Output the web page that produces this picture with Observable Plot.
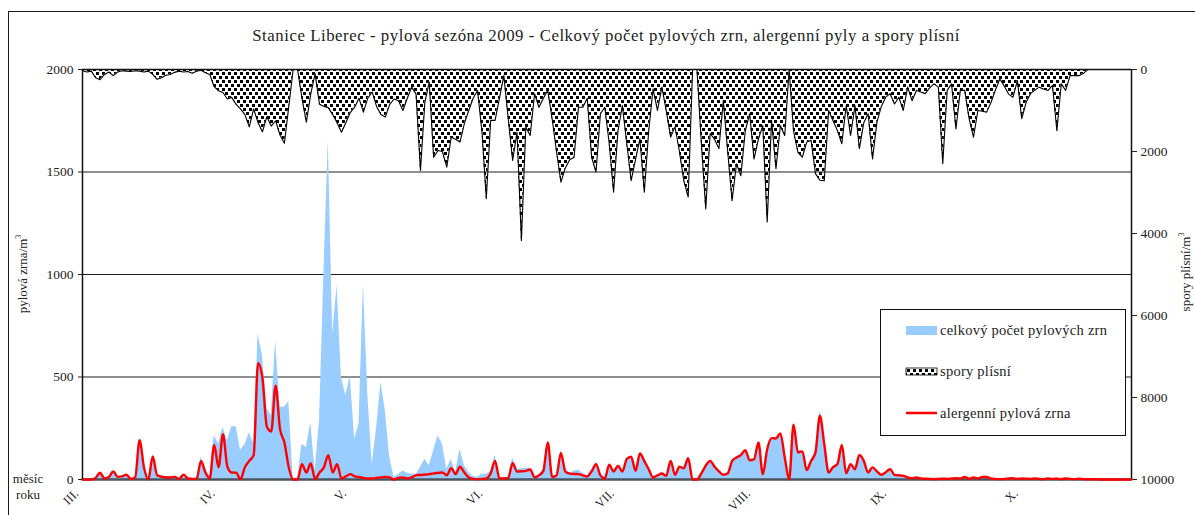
<!DOCTYPE html>
<html>
<head>
<meta charset="utf-8">
<script src="https://cdn.jsdelivr.net/npm/d3@7"></script>
<script src="https://cdn.jsdelivr.net/npm/@observablehq/plot@0.6"></script>
<style>
  body { margin: 0; background: #fff; font-family: "Liberation Serif", serif; color: #222; }
  #wrap { position: relative; width: 1195px; height: 515px; overflow: hidden; }
  #frame { position: absolute; left: 8px; top: 11px; width: 1300px; height: 700px; border: 1px solid #1a1a1a; box-sizing: border-box; }
  .layer { position: absolute; left: 0; top: 0; }
  #title { position: absolute; top: 28px; left: 606px; transform: translateX(-50%); white-space: nowrap; font-size: 16.8px; letter-spacing: 0.55px; line-height: 1; }
  .ylab { position: absolute; white-space: nowrap; font-size: 13px; line-height: 1; transform: translate(-50%, -50%) rotate(-90deg); }
  #unit { position: absolute; left: 8px; top: 471px; width: 40px; text-align: center; font-size: 13px; line-height: 16px; }
</style>
</head>
<body>
<div id="wrap">
  <div id="frame"></div>
  <div id="title">Stanice Liberec - pylová sezóna 2009 - Celkový počet pylových zrn, alergenní pyly a spory plísní</div>
</div>
<script>
// Pollen season 2009, Liberec station: daily values from 1 March onward.
const seasonStart = "2009-03-01";

// total pollen grains per m³ (blue area)
const pollenTotal = [
  0, 0, 0, 8, 35, 6, 14, 42, 14, 16,
  26, 4, 12, 196, 65, 2, 115, 24, 16, 12,
  12, 15, 4, 26, 6, 4, 5, 107, 50, 20,
  213, 173, 254, 189, 257, 257, 143, 169, 228, 176,
  710, 604, 348, 311, 677, 352, 352, 381, 0, 0,
  173, 156, 278, 42, 286, 1003, 1654, 710, 946, 498,
  409, 506, 197, 270, 954, 417, 75, 250, 474, 335,
  107, 10, 25, 42, 30, 26, 23, 60, 99, 67,
  140, 213, 173, 50, 99, 34, 148, 67, 34, 15,
  10, 26, 26, 40, 120, 10, 10, 12, 104, 50,
  52, 55, 54, 12, 25, 50, 183, 15, 22, 140,
  42, 32, 40, 46, 30, 18, 45, 83, 22, 6,
  72, 39, 67, 42, 105, 112, 46, 127, 92, 59,
  13, 20, 29, 18, 94, 23, 63, 59, 107, 0,
  0, 32, 75, 94, 67, 42, 26, 34, 95, 111,
  124, 143, 99, 99, 186, 26, 156, 202, 202, 226,
  124, 0, 270, 140, 140, 50, 95, 140, 335, 180,
  36, 62, 78, 172, 32, 78, 52, 125, 95, 36,
  62, 42, 25, 37, 52, 25, 22, 20, 12, 6,
  11, 6, 4, 3, 2, 3, 4, 3, 5, 6,
  5, 12, 4, 10, 5, 12, 12, 5, 3, 2,
  3, 5, 6, 3, 5, 4, 3, 5, 3, 2,
  5, 3, 4, 2, 5, 3, 2, 4, 2, 1,
  2, 1, 0, 0, 0, 0, 0, 0, 0, 0
];

// allergenic pollen grains per m³ (red line)
const pollenAllergenic = [
  0, 0, 0, 8, 33, 5, 12, 39, 13, 15,
  24, 3, 10, 192, 60, 0, 112, 21, 14, 10,
  10, 13, 3, 24, 5, 3, 3, 91, 34, 5,
  169, 59, 221, 63, 34, 33, 2, 60, 91, 119,
  567, 495, 257, 234, 457, 246, 181, 59, 0, 0,
  75, 34, 78, 2, 34, 59, 119, 34, 75, 5,
  15, 26, 15, 12, 8, 5, 5, 8, 10, 13,
  10, 0, 8, 10, 5, 10, 21, 22, 24, 26,
  30, 32, 34, 21, 55, 26, 62, 34, 10, 3,
  2, 3, 5, 30, 91, 5, 5, 8, 80, 39,
  40, 42, 49, 10, 20, 42, 181, 13, 20, 130,
  39, 29, 27, 26, 20, 15, 40, 75, 20, 5,
  72, 39, 67, 39, 100, 111, 42, 127, 90, 50,
  10, 20, 29, 18, 91, 23, 62, 55, 104, 0,
  0, 30, 67, 91, 62, 40, 23, 29, 90, 107,
  119, 143, 94, 98, 181, 26, 148, 202, 200, 225,
  107, 0, 267, 132, 137, 46, 90, 132, 311, 173,
  34, 60, 75, 169, 30, 75, 50, 120, 91, 34,
  59, 40, 23, 35, 50, 23, 20, 18, 10, 5,
  10, 5, 4, 3, 2, 3, 4, 3, 5, 6,
  5, 12, 4, 10, 5, 12, 12, 5, 3, 2,
  3, 5, 6, 3, 5, 4, 3, 5, 3, 2,
  5, 3, 4, 2, 5, 3, 2, 4, 2, 1,
  2, 1, 0, 0, 0, 0, 0, 0, 0, 0
];

// mould spores per m³ (dotted area hanging from the top, right axis)
const mouldSpores = [
  30, 60, 40, 200, 250, 120, 60, 150, 60, 30,
  40, 50, 30, 40, 60, 40, 120, 240, 200, 140,
  120, 70, 40, 60, 50, 90, 40, 20, 80, 120,
  420, 520, 560, 720, 680, 850, 960, 1100, 1400, 960,
  1300, 1520, 1150, 1380, 1250, 1600, 1800, 900, 0, 0,
  700, 1285, 600, 100, 850, 900, 930, 1100, 1300, 1530,
  1300, 1050, 920, 700, 1040, 700, 550, 900, 1100, 1160,
  850, 720, 760, 1000, 700, 430, 600, 2460, 800, 310,
  2140, 1975, 2000, 2380, 1650, 1700, 1770, 1320, 1000, 700,
  510, 1500, 3150, 1240, 1240, 700, 150, 1200, 2220, 1530,
  4170, 1400, 1610, 590, 920, 700, 510, 1200, 2000, 2750,
  2400, 2200, 2140, 920, 920, 700, 2140, 2500, 1080, 920,
  1800, 2990, 1500, 880, 1800, 2710, 2200, 1690, 2990, 1500,
  470, 1000, 430, 1000, 1650, 1400, 2000, 2710, 3110, 0,
  0, 1800, 3400, 1560, 1700, 1930, 760, 2000, 3200, 2300,
  2590, 1500, 1080, 2180, 1700, 1370, 3720, 1240, 2420, 1370,
  1610, 0, 1500, 2020, 2140, 1770, 1730, 2540, 2700, 2710,
  1000, 1250, 1490, 1810, 880, 1610, 880, 1930, 1300, 1080,
  2180, 1285, 900, 675, 590, 840, 675, 1000, 430, 760,
  510, 550, 590, 450, 350, 430, 2300, 510, 350, 1450,
  510, 510, 1200, 1650, 1000, 1020, 1040, 800, 500, 230,
  400, 600, 675, 270, 1200, 800, 590, 500, 430, 480,
  510, 390, 1490, 350, 510, 150, 150, 150, 100, 0,
  0, 0, 0, 0, 0, 0, 0, 0, 0, 0
];

// axes
const monthLabels = ["III.", "IV.", "V.", "VI.", "VII.", "VIII.", "IX.", "X."];
const pollenTicks = [0, 500, 1000, 1500, 2000];
const sporeTicks = [0, 2000, 4000, 6000, 8000, 10000];
const pollenGrid = [500, 1000, 1500];

const W = 1195, H = 515;
const margins = {marginLeft: 82, marginRight: 64, marginTop: 69, marginBottom: 36};
const t0 = new Date(seasonStart + "T00:00:00Z");
const rows = mouldSpores.map((s, i) => ({
  date: d3.utcDay.offset(t0, i),
  total: pollenTotal[i],
  allergenic: pollenAllergenic[i],
  spores: s
}));
const tEnd = rows[rows.length - 1].date;
const monthStarts = d3.utcMonth.range(t0, d3.utcDay.offset(tEnd, 1));
const monthName = new Map(monthStarts.map((d, i) => [+d, monthLabels[i]]));
const font = "Liberation Serif";
const wrap = document.getElementById("wrap");

// mould spores: inverted scale, 0 at the top
const sporeChart = Plot.plot({
  width: W, height: H, ...margins,
  style: {background: "transparent", fontFamily: font, fontSize: "13.5px", color: "#222"},
  x: {type: "utc", domain: [t0, tEnd], axis: null},
  y: {domain: [10000, 0]},
  marks: [
    Plot.areaY(rows, {x: "date", y: "spores", fill: "url(#sporeDots)"}),
    Plot.lineY(rows, {x: "date", y: "spores", stroke: "#000", strokeWidth: 1.1}),
    Plot.ruleX([tEnd], {stroke: "#111", strokeWidth: 1.5}),
    Plot.axisY({anchor: "right", ticks: sporeTicks, tickSize: 5, tickPadding: 4,
      tickFormat: d => String(d), fontSize: 13.5, label: null})
  ]
});
sporeChart.classList.add("layer");
// staggered black squares on white for the spore fill
const defs = d3.select(sporeChart).insert("defs", ":first-child");
const pat = defs.append("pattern").attr("id", "sporeDots")
  .attr("patternUnits", "userSpaceOnUse").attr("width", 6).attr("height", 8)
  .attr("shape-rendering", "crispEdges");
pat.append("rect").attr("width", 6).attr("height", 8).attr("fill", "#fff");
pat.append("rect").attr("x", 0).attr("y", 0).attr("width", 3).attr("height", 3).attr("fill", "#000");
pat.append("rect").attr("x", 3).attr("y", 4).attr("width", 3).attr("height", 3).attr("fill", "#000");
wrap.appendChild(sporeChart);

// pollen: total (area) and allergenic (line)
const pollenChart = Plot.plot({
  width: W, height: H, ...margins,
  style: {background: "transparent", fontFamily: font, fontSize: "13.5px", color: "#222", overflow: "visible"},
  x: {type: "utc", domain: [t0, tEnd]},
  y: {domain: [0, 2000]},
  marks: [
    Plot.ruleY(pollenGrid, {stroke: "#1e1e1e", strokeWidth: 1.2}),
    Plot.areaY(rows, {x: "date", y: "total", fill: "#99ccff"}),
    Plot.ruleY([0], {stroke: "#4b535c", strokeWidth: 2.5}),
    Plot.lineY(rows, {x: "date", y: "allergenic", stroke: "#ff0000", strokeWidth: 2.4, curve: "monotone-x"}),
    Plot.ruleY([2000], {stroke: "#111", strokeWidth: 1.5}),
    Plot.ruleX([t0], {stroke: "#111", strokeWidth: 1.5}),
    Plot.axisY({ticks: pollenTicks, tickSize: 4, tickPadding: 5, tickFormat: d => String(d), fontSize: 13.5, label: null}),
    Plot.axisX({ticks: monthStarts, tickFormat: d => monthName.get(+d), tickRotate: -45,
      tickSize: 0, tickPadding: 12, dx: -6, fontSize: 12.5, label: null})
  ]
});
pollenChart.classList.add("layer");
wrap.appendChild(pollenChart);

// legend
const lg = d3.select(wrap).append("svg").attr("class", "layer")
  .style("left", "880px").style("top", "309px")
  .attr("width", 247).attr("height", 128)
  .style("font-family", font).style("font-size", "14.5px");
lg.append("rect").attr("x", 0.5).attr("y", 0.5).attr("width", 245).attr("height", 126)
  .attr("fill", "#fff").attr("stroke", "#111");
lg.append("rect").attr("x", 26).attr("y", 17).attr("width", 31).attr("height", 9).attr("fill", "#99ccff");
lg.append("rect").attr("x", 26).attr("y", 59).attr("width", 31).attr("height", 7)
  .attr("fill", "url(#sporeDots)").attr("stroke", "#000").attr("stroke-width", 0.8);
lg.append("line").attr("x1", 26).attr("x2", 57).attr("y1", 104).attr("y2", 104)
  .attr("stroke", "#ff0000").attr("stroke-width", 2.5);
const legendText = ["celkový počet pylových zrn", "spory plísní", "alergenní pylová zrna"];
[26, 67, 109].forEach((y, i) => lg.append("text").attr("x", 60).attr("y", y)
  .attr("fill", "#222").attr("letter-spacing", 0.25).text(legendText[i]));

// axis titles
const addLabel = (html, x, y, cls) => {
  const el = document.createElement("div");
  el.className = cls; el.innerHTML = html;
  el.style.left = x + "px"; el.style.top = y + "px";
  wrap.appendChild(el);
};
addLabel("pylová zrna/m<sup style='font-size:8px'>3</sup>", 22, 274, "ylab");
addLabel("spory plísní/m<sup style='font-size:8px'>3</sup>", 1185, 272, "ylab");
const unit = document.createElement("div");
unit.id = "unit"; unit.innerHTML = "měsíc<br>roku";
wrap.appendChild(unit);
</script>
</body>
</html>
